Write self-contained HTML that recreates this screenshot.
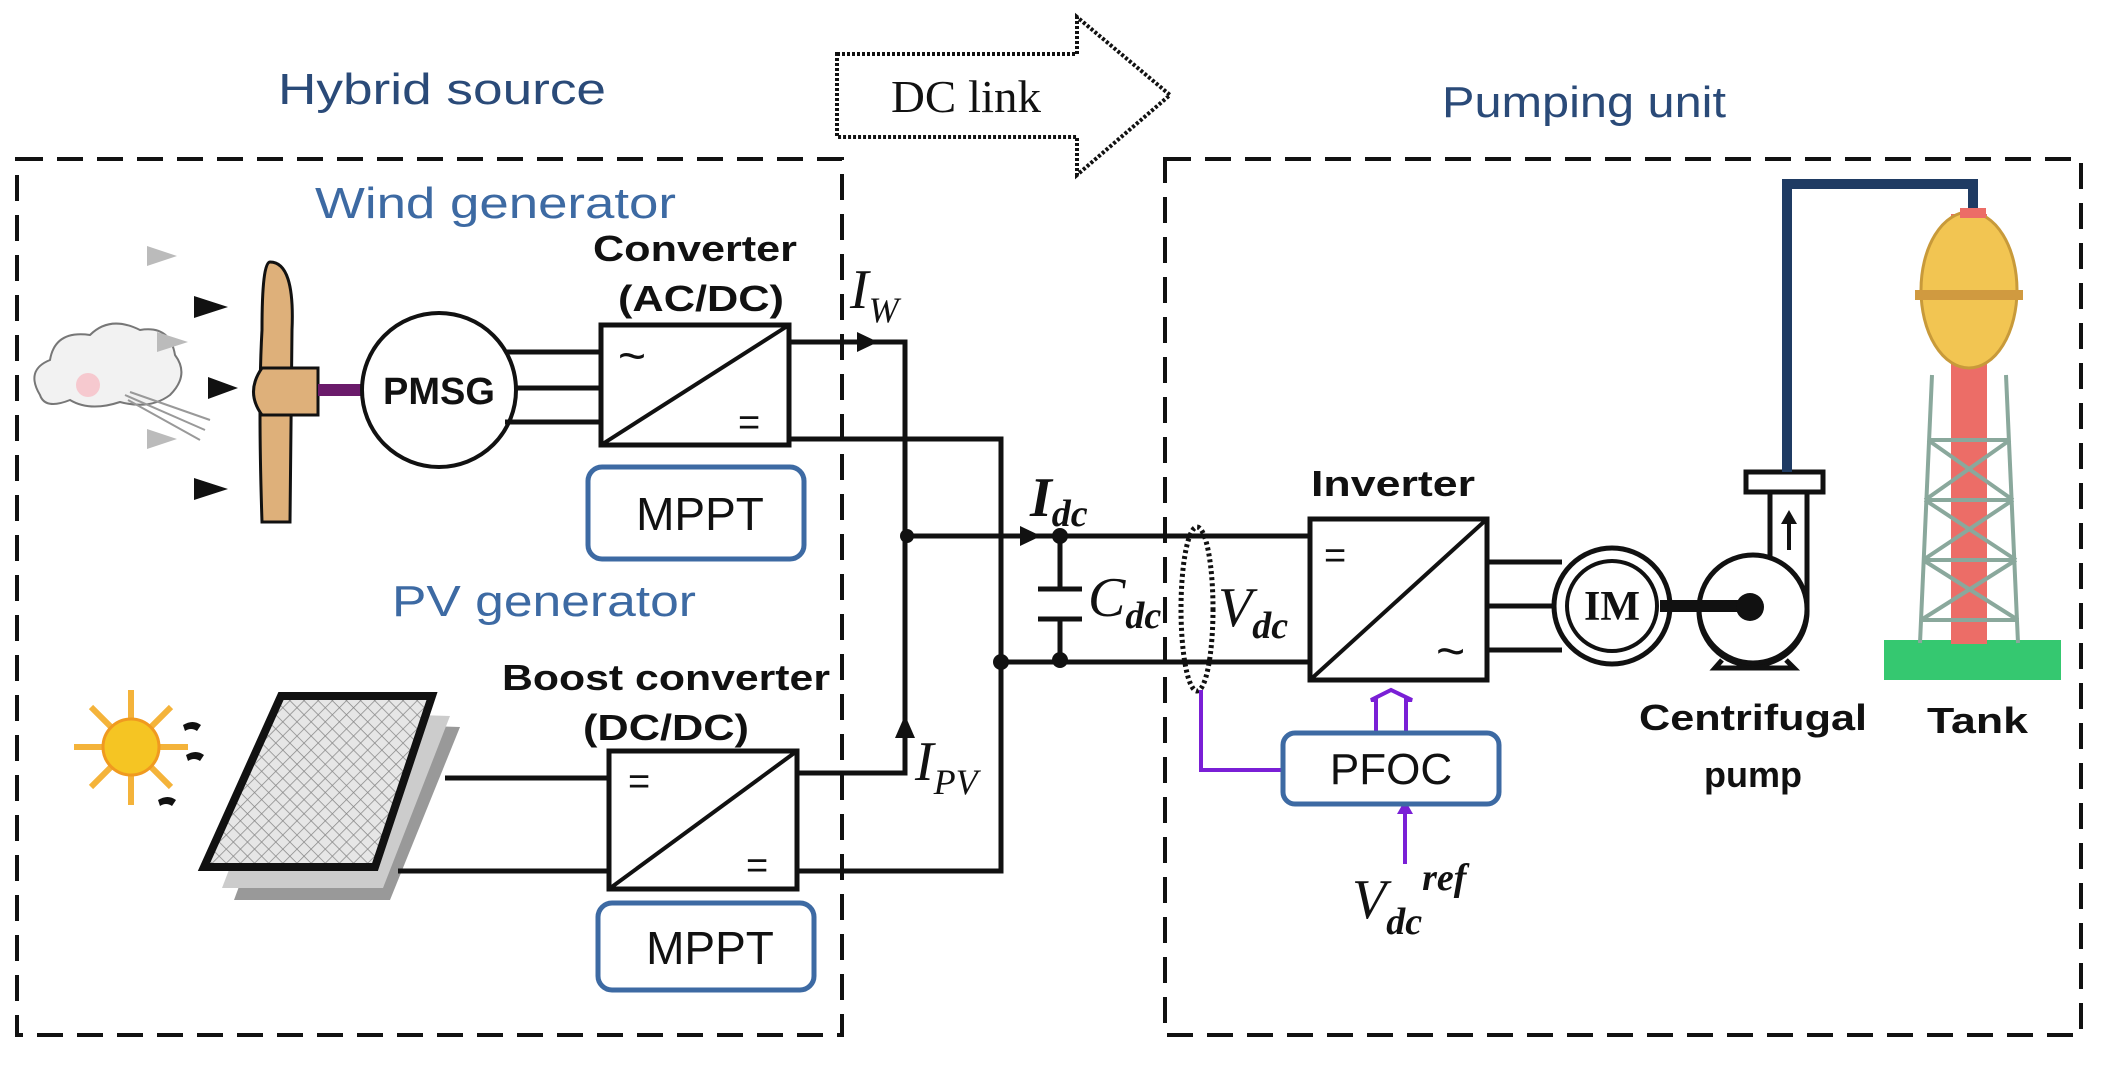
<!DOCTYPE html>
<html><head><meta charset="utf-8"><style>html,body{margin:0;padding:0;background:#fff}svg{display:block}</style></head>
<body>
<svg width="2101" height="1066" viewBox="0 0 2101 1066" xmlns="http://www.w3.org/2000/svg" font-family="Liberation Sans, sans-serif">
<defs>
<pattern id="mesh" width="10" height="10" patternUnits="userSpaceOnUse" patternTransform="rotate(45)">
<rect width="10" height="10" fill="#e6e6e6"/><path d="M0 0H10M0 0V10" stroke="#888" stroke-width="1.5"/></pattern>
</defs>
<!-- dashed boxes -->
<rect x="17" y="159" width="825" height="876" fill="none" stroke="#111" stroke-width="4" stroke-dasharray="26,14"/>
<rect x="1165" y="159" width="916" height="876" fill="none" stroke="#111" stroke-width="4" stroke-dasharray="26,14"/>
<!-- DC link arrow -->
<path d="M837 54 H1077 V17 L1170 95 L1077 175 V137 H837 Z" fill="#fff" stroke="#111" stroke-width="4" stroke-dasharray="3,2"/>
<text x="891" y="112" font-family="Liberation Serif, serif" font-size="46" textLength="150" lengthAdjust="spacingAndGlyphs" fill="#111">DC link</text>
<!-- titles -->
<g fill="#2a4a78" font-size="44">
<text x="278" y="104" textLength="328" lengthAdjust="spacingAndGlyphs">Hybrid source</text>
<text x="1442" y="117" textLength="284" lengthAdjust="spacingAndGlyphs">Pumping unit</text>
</g>
<g fill="#3d6aa3" font-size="44">
<text x="315" y="218" textLength="361" lengthAdjust="spacingAndGlyphs">Wind generator</text>
<text x="392" y="616" textLength="304" lengthAdjust="spacingAndGlyphs">PV generator</text>
</g>
<!-- cloud -->
<path d="M40 395 Q25 370 50 360 Q55 330 90 335 Q110 315 140 330 Q170 325 175 355 Q190 375 170 395 Q150 410 120 402 Q90 412 70 400 Q45 410 40 395Z" fill="#f2f2f2" stroke="#777" stroke-width="2"/>
<circle cx="88" cy="385" r="12" fill="#f6c9cf"/>
<path d="M125 395 L205 430 M128 400 L200 440 M130 392 L210 420" stroke="#999" stroke-width="2"/>
<!-- wind arrows -->
<g fill="#bbb"><path d="M147 246 L177 256 L147 266Z"/><path d="M157 332 L188 342 L157 352Z"/><path d="M147 429 L177 439 L147 449Z"/></g>
<g fill="#111"><path d="M194 296 L228 307 L194 318Z"/><path d="M208 377 L238 388 L208 399Z"/><path d="M194 478 L228 489 L194 500Z"/></g>
<!-- turbine -->
<path d="M270 262 Q295 262 292 330 L290 522 H262 Q258 400 262 330 Q262 262 270 262Z" fill="#deb07a" stroke="#111" stroke-width="3"/>
<path d="M262 368 H318 V415 H262 Q245 392 262 368Z" fill="#deb07a" stroke="#111" stroke-width="3"/>
<rect x="318" y="384" width="44" height="12" fill="#6a1a6a"/>
<circle cx="439" cy="390" r="77" fill="#fff" stroke="#111" stroke-width="4"/>
<text x="439" y="404" text-anchor="middle" font-weight="bold" font-size="38" fill="#111">PMSG</text>
<g stroke="#111" stroke-width="5"><path d="M505 352H601M516 388H601M505 422H601"/></g>
<!-- AC/DC converter -->
<text x="593" y="261" font-weight="bold" font-size="36" textLength="204" lengthAdjust="spacingAndGlyphs" fill="#111">Converter</text>
<text x="618" y="311" font-weight="bold" font-size="36" textLength="166" lengthAdjust="spacingAndGlyphs" fill="#111">(AC/DC)</text>
<rect x="601" y="325" width="188" height="120" fill="#fff" stroke="#111" stroke-width="5"/>
<path d="M601 445 L789 325" stroke="#111" stroke-width="4"/>
<text x="618" y="372" font-size="48" fill="#111">~</text>
<text x="738" y="435" font-size="38" fill="#111">=</text>
<rect x="588" y="467" width="216" height="92" rx="14" fill="#fff" stroke="#3d6aa3" stroke-width="5"/>
<text x="700" y="530" text-anchor="middle" font-size="46" fill="#111">MPPT</text>
<!-- sun -->
<g stroke="#f4b33a" stroke-width="6">
<path d="M131 690V805M74 747H188M91 707L171 787M91 787L171 707"/></g>
<circle cx="131" cy="747" r="28" fill="#f5c523" stroke="#f09a20" stroke-width="3"/>
<g fill="#111"><path d="M183 725q10-6 18 0l-4 6q-6-4-12 0z"/><path d="M186 755q10-6 18 0l-4 6q-6-4-12 0z"/><path d="M158 800q10-6 18 0l-4 6q-6-4-12 0z"/></g>
<!-- PV panel -->
<path d="M300 722 L460 727 L390 900 L234 900Z" fill="#999"/>
<path d="M290 711 L450 716 L383 888 L222 888Z" fill="#ccc"/>
<path d="M281 696 L432 696 L375 867 L204 867Z" fill="url(#mesh)" stroke="#111" stroke-width="8"/>
<g stroke="#111" stroke-width="5"><path d="M445 778H609M398 871H609"/></g>
<!-- boost converter -->
<text x="502" y="690" font-weight="bold" font-size="36" textLength="328" lengthAdjust="spacingAndGlyphs" fill="#111">Boost converter</text>
<text x="583" y="740" font-weight="bold" font-size="36" textLength="166" lengthAdjust="spacingAndGlyphs" fill="#111">(DC/DC)</text>
<rect x="609" y="751" width="188" height="138" fill="#fff" stroke="#111" stroke-width="5"/>
<path d="M609 889 L797 751" stroke="#111" stroke-width="4"/>
<text x="628" y="794" font-size="38" fill="#111">=</text>
<text x="746" y="878" font-size="38" fill="#111">=</text>
<rect x="598" y="903" width="216" height="87" rx="14" fill="#fff" stroke="#3d6aa3" stroke-width="5"/>
<text x="710" y="964" text-anchor="middle" font-size="46" fill="#111">MPPT</text>
<!-- DC bus wiring -->
<g stroke="#111" stroke-width="5" fill="none">
<path d="M789 342H905V773H797"/>
<path d="M789 439H1001V871H797"/>
<path d="M905 536H1310"/>
<path d="M1001 662H1310"/>
<path d="M1060 536V589M1060 619V662"/>
<path d="M1038 589H1082M1038 619H1082"/>
</g>
<g fill="#111">
<path d="M857 332L878 342L857 352Z"/>
<path d="M895 738L905 715L915 738Z"/>
<path d="M1020 526L1041 536L1020 546Z"/>
<circle cx="907" cy="536" r="7"/><circle cx="1001" cy="662" r="8"/>
<circle cx="1060" cy="536" r="8"/><circle cx="1060" cy="660" r="8"/>
</g>
<g font-family="Liberation Serif, serif" font-style="italic" fill="#111">
<text x="850" y="308" font-size="56">I<tspan font-size="36" dy="14">W</tspan></text>
<text x="915" y="780" font-size="56">I<tspan font-size="36" dy="14">PV</tspan></text>
<text x="1030" y="516" font-size="56" font-weight="bold">I<tspan font-size="38" dy="10">dc</tspan></text>
<text x="1088" y="616" font-size="56">C<tspan font-size="38" dy="12" font-weight="bold">dc</tspan></text>
<text x="1218" y="626" font-size="56">V<tspan font-size="38" dy="12" font-weight="bold">dc</tspan></text>
<text x="1352" y="918" font-size="56">V<tspan font-size="38" dy="16" font-weight="bold">dc</tspan><tspan font-size="38" dy="-44" font-weight="bold">ref</tspan></text>
</g>
<ellipse cx="1197" cy="609" rx="16" ry="82" fill="none" stroke="#111" stroke-width="5" stroke-dasharray="3,3"/>
<!-- inverter -->
<text x="1311" y="496" font-weight="bold" font-size="36" textLength="164" lengthAdjust="spacingAndGlyphs" fill="#111">Inverter</text>
<rect x="1310" y="519" width="177" height="161" fill="#fff" stroke="#111" stroke-width="5"/>
<path d="M1310 680 L1487 519" stroke="#111" stroke-width="4"/>
<text x="1324" y="568" font-size="38" fill="#111">=</text>
<text x="1436" y="668" font-size="50" fill="#111">~</text>
<g stroke="#111" stroke-width="5"><path d="M1487 562H1562M1487 606H1555M1487 650H1562"/></g>
<!-- control -->
<g stroke="#7a1fd6" stroke-width="4" fill="none">
<path d="M1201 690V770H1283"/>
<path d="M1405 864V812"/>
<path d="M1376 733V700H1371L1391 690L1412 700H1406V733"/>
</g>
<path d="M1397 814L1405 800L1413 814Z" fill="#7a1fd6"/>
<rect x="1283" y="733" width="216" height="71" rx="12" fill="#fff" stroke="#3d6aa3" stroke-width="5"/>
<text x="1391" y="784" text-anchor="middle" font-size="44" fill="#111">PFOC</text>
<!-- motor -->
<circle cx="1612" cy="606" r="58" fill="#fff" stroke="#111" stroke-width="5"/>
<circle cx="1612" cy="606" r="45" fill="#fff" stroke="#111" stroke-width="4"/>
<text x="1612" y="620" text-anchor="middle" font-family="Liberation Serif, serif" font-weight="bold" font-size="42" fill="#111">IM</text>
<!-- pump -->
<path d="M1770 492V560 A54 54 0 1 0 1807 609V492" fill="#fff" stroke="#111" stroke-width="5"/>
<circle cx="1753" cy="609" r="54" fill="#fff" stroke="#111" stroke-width="5"/>
<path d="M1722 660 L1715 668H1794L1786 660" fill="none" stroke="#111" stroke-width="5"/>
<rect x="1746" y="472" width="77" height="20" fill="#fff" stroke="#111" stroke-width="5"/>
<path d="M1789 550V520" stroke="#111" stroke-width="4"/><path d="M1781 524L1789 510L1797 524Z" fill="#111"/>
<path d="M1660 606H1750" stroke="#111" stroke-width="12"/>
<circle cx="1750" cy="607" r="14" fill="#111"/>
<path d="M1787 472V184H1973V208" fill="none" stroke="#1f3b63" stroke-width="10"/>
<!-- tower -->
<rect x="1884" y="640" width="177" height="40" fill="#35c870"/>
<rect x="1951" y="214" width="36" height="430" fill="#ec6d67"/>
<g stroke="#8aa89c" stroke-width="4" fill="none">
<path d="M1932 375L1920 643M2006 375L2018 643"/>
<path d="M1928 440H2010M1925 500H2013M1923 560H2016M1921 620H2018"/>
<path d="M1928 440L2013 500M2010 440L1925 500M1925 500L2016 560M2013 500L1923 560M1923 560L2018 620M2016 560L1921 620"/>
</g>
<ellipse cx="1969" cy="290" rx="48" ry="78" fill="#f2c552" stroke="#c89a3a" stroke-width="3"/>
<rect x="1915" y="290" width="108" height="10" fill="#d09a40"/>
<rect x="1960" y="208" width="26" height="10" fill="#ec6d67"/>
<!-- pump/tank labels -->
<text x="1639" y="730" font-weight="bold" font-size="36" textLength="228" lengthAdjust="spacingAndGlyphs" fill="#111">Centrifugal</text>
<text x="1753" y="787" text-anchor="middle" font-weight="bold" font-size="36" fill="#111">pump</text>
<text x="1927" y="733" font-weight="bold" font-size="36" textLength="101" lengthAdjust="spacingAndGlyphs" fill="#111">Tank</text>
</svg>
</body></html>
